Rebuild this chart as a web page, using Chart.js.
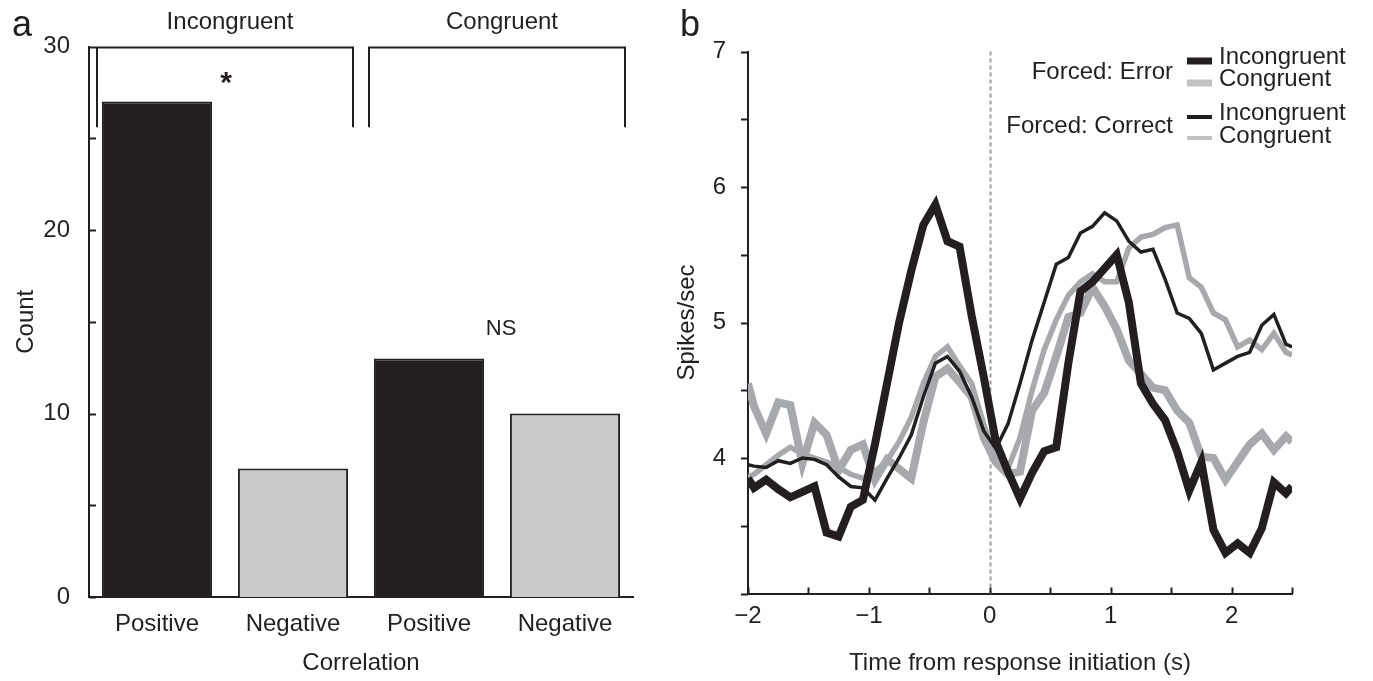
<!DOCTYPE html>
<html><head><meta charset="utf-8">
<script src="https://cdn.jsdelivr.net/npm/chart.js@4.4.1/dist/chart.umd.min.js"></script>
<style>
html,body{margin:0;padding:0;background:#fff;}
#wrap{position:relative;width:1373px;height:681px;overflow:hidden;}
canvas{position:absolute;left:0;top:0;}
</style></head><body>
<div id="wrap"><canvas id="ca" width="1373" height="681"></canvas><canvas id="cb" width="1373" height="681"></canvas></div>
<script>
// ---------- Panel a data ----------
const barCategories = ['Positive', 'Negative', 'Positive', 'Negative'];
const barCounts = [27, 7, 13, 10];
const groupLabels = ['Incongruent', 'Congruent'];
const groupMarks = ['*', 'NS'];
const groupMarkValues = [28.3, 14.7];
const countTicks = [0, 10, 20, 30];

// ---------- Panel b data ----------
const times = [-2.0, -1.95, -1.85, -1.75, -1.65, -1.55, -1.45, -1.35, -1.25, -1.15, -1.05,
  -0.95, -0.85, -0.75, -0.65, -0.55, -0.45, -0.35, -0.25, -0.15, -0.05,
  0.05, 0.15, 0.25, 0.35, 0.45, 0.55, 0.65, 0.75, 0.85, 0.95,
  1.05, 1.15, 1.25, 1.35, 1.45, 1.55, 1.65, 1.75, 1.85, 1.95,
  2.05, 2.15, 2.25, 2.35, 2.45, 2.5];
const errorIncongruent = [3.85, 3.78, 3.84, 3.77, 3.71, 3.75, 3.79, 3.45, 3.42, 3.64, 3.69,
  4.1, 4.55, 5.0, 5.38, 5.72, 5.87, 5.6, 5.56, 5.05, 4.6,
  4.12, 3.9, 3.7, 3.89, 4.05, 4.08, 4.7, 5.23, 5.3, 5.4,
  5.5, 5.15, 4.55, 4.4, 4.28, 4.05, 3.76, 3.97, 3.47, 3.3,
  3.37, 3.3, 3.48, 3.82, 3.74, 3.79];
const errorCongruent = [4.55, 4.38, 4.18, 4.41, 4.39, 3.96, 4.26, 4.17, 3.91, 4.06, 4.1,
  3.84, 3.99, 3.92, 3.85, 4.26, 4.6, 4.66, 4.56, 4.45, 4.15,
  3.97, 3.88, 3.9, 4.35, 4.48, 4.75, 5.04, 5.07, 5.26, 5.12,
  4.95, 4.72, 4.62, 4.52, 4.5, 4.35, 4.26, 4.01, 4.0, 3.84,
  3.97, 4.1, 4.18, 4.06, 4.16, 4.12];
const correctIncongruent = [3.95, 3.94, 3.93, 3.98, 3.96, 4.0, 3.99, 3.95, 3.86, 3.79, 3.78,
  3.69, 3.85, 4.0, 4.17, 4.45, 4.7, 4.75, 4.64, 4.45, 4.2,
  4.07, 4.25, 4.55, 4.87, 5.15, 5.43, 5.48, 5.66, 5.71, 5.81,
  5.75, 5.6, 5.52, 5.54, 5.32, 5.07, 5.03, 4.92, 4.65, 4.7,
  4.75, 4.78, 4.98, 5.06, 4.84, 4.82];
const correctCongruent = [3.86, 3.88, 3.95, 4.02, 4.08, 4.03, 4.0, 3.97, 3.93, 3.88, 3.85,
  3.9, 3.98, 4.12, 4.3, 4.55, 4.75, 4.82, 4.68, 4.55, 4.25,
  4.0, 3.92, 4.15, 4.5, 4.8, 5.02, 5.2, 5.3, 5.36, 5.3,
  5.3, 5.55, 5.63, 5.65, 5.7, 5.72, 5.33, 5.26, 5.07, 5.02,
  4.82, 4.87, 4.8, 4.92, 4.78, 4.76];
const spikeTicks = [4, 5, 6, 7];
const timeTicks = [-2, -1, 0, 1, 2];
const legendGroups = ['Forced: Error', 'Forced: Correct'];
const legendItems = ['Incongruent', 'Congruent'];

// ---------- Styles ----------
const INK = '#231f20';
const BAR_GRAY = '#cbcbcb';
const LINE_GRAY = '#a7a9ac';
const LEGEND_GRAY = '#c2c2c2';
const FONT = "'Liberation Sans', Arial, Helvetica, sans-serif";
const FS = 24;
Chart.defaults.font.family = FONT;
Chart.defaults.color = INK;

function centeredText(ctx, txt, x, y) {
  const m = ctx.measureText(txt);
  const h = m.actualBoundingBoxAscent + m.actualBoundingBoxDescent;
  ctx.textBaseline = 'alphabetic';
  ctx.fillText(txt, x, y - h / 2 + m.actualBoundingBoxAscent);
}

// ---------- Panel a ----------
const panelAPlugin = {
  id: 'panelA',
  afterDraw(chart) {
    const ctx = chart.ctx, ys = chart.scales.y, area = chart.chartArea;
    const bars = chart.getDatasetMeta(0).data;
    ctx.save();
    ctx.strokeStyle = INK; ctx.fillStyle = INK; ctx.lineWidth = 2;
    // inward y ticks
    ys.ticks.forEach(t => {
      const py = Math.round(ys.getPixelForValue(t.value)) + 0.5;
      ctx.beginPath(); ctx.moveTo(area.left, py); ctx.lineTo(area.left + 7, py); ctx.stroke();
    });
    // group brackets
    const top = ys.getPixelForValue(29.95), leg = ys.getPixelForValue(25.6);
    groupLabels.forEach((g, gi) => {
      const b0 = bars[gi * 2], b1 = bars[gi * 2 + 1];
      const L = Math.round(b0.x - b0.width / 2 - 5), R = Math.round(b1.x + b1.width / 2 + 5);
      ctx.beginPath();
      ctx.moveTo(L, leg); ctx.lineTo(L, top); ctx.lineTo(R, top); ctx.lineTo(R, leg);
      ctx.stroke();
      ctx.font = FS + 'px ' + FONT; ctx.textAlign = 'center'; ctx.textBaseline = 'alphabetic';
      ctx.fillText(g, (L + R) / 2 + 5, top - 18);
      // significance mark
      const mx = b0.x + b0.width / 2 + (gi === 0 ? 14 : 17);
      const my = ys.getPixelForValue(groupMarkValues[gi]);
      ctx.font = (gi === 0 ? 'bold 30px ' : '22px ') + FONT;
      centeredText(ctx, groupMarks[gi], mx, my);
    });
    // panel letter
    ctx.font = '36px ' + FONT; ctx.textAlign = 'left'; ctx.textBaseline = 'alphabetic';
    ctx.fillText('a', 12, 36);
    ctx.restore();
  }
};

new Chart(document.getElementById('ca'), {
  type: 'bar',
  data: {
    labels: barCategories,
    datasets: [{
      data: barCounts,
      backgroundColor: barCategories.map(c => c === 'Positive' ? INK : BAR_GRAY),
      borderColor: INK,
      borderWidth: 2,
      barPercentage: 0.81,
      categoryPercentage: 1
    }]
  },
  options: {
    responsive: false, animation: false, devicePixelRatio: 1,
    layout: { padding: { left: 0, right: 740, top: 46.5, bottom: 0 } },
    plugins: { legend: { display: false }, tooltip: { enabled: false } },
    scales: {
      x: {
        grid: { display: false },
        border: { display: true, color: INK, width: 2 },
        ticks: { font: { size: FS }, color: INK, padding: 5 },
        title: { display: true, text: 'Correlation', font: { size: FS }, color: INK, padding: { top: 0, bottom: 3 } },
        afterFit(s) { s.height = 84; }
      },
      y: {
        min: 0, max: 30,
        grid: { display: false },
        border: { display: true, color: INK, width: 2 },
        ticks: { stepSize: 5, font: { size: FS }, color: INK, padding: 11,
          callback: v => countTicks.includes(v) ? String(v) : '' },
        title: { display: true, text: 'Count', font: { size: FS }, color: INK, padding: { top: 12, bottom: 0 } },
        afterFit(s) { s.width = 89; }
      }
    }
  },
  plugins: [panelAPlugin]
});

// ---------- Panel b ----------
const near = (arr, v) => arr.some(t => Math.abs(t - v) < 1e-6);
const fmtTime = v => (v < -1e-9 ? '\u2212' + Math.abs(Math.round(v)) : String(Math.round(v)));

const panelBPlugin = {
  id: 'panelB',
  beforeDatasetsDraw(chart) {
    const ctx = chart.ctx, xs = chart.scales.x, area = chart.chartArea;
    const px = Math.round(xs.getPixelForValue(0)) + 0.5;
    ctx.save();
    ctx.strokeStyle = '#9a9a9a'; ctx.lineWidth = 2; ctx.setLineDash([4, 3]);
    ctx.beginPath(); ctx.moveTo(px, area.top); ctx.lineTo(px, area.bottom); ctx.stroke();
    ctx.restore();
  },
  afterDraw(chart) {
    const ctx = chart.ctx, xs = chart.scales.x, ys = chart.scales.y, area = chart.chartArea;
    ctx.save();
    ctx.strokeStyle = INK; ctx.fillStyle = INK; ctx.lineWidth = 2;
    ys.ticks.forEach(t => {
      const py = Math.round(ys.getPixelForValue(t.value)) + 0.5;
      ctx.beginPath(); ctx.moveTo(area.left - 7, py); ctx.lineTo(area.left, py); ctx.stroke();
    });
    xs.ticks.forEach(t => {
      const px = Math.round(xs.getPixelForValue(t.value)) + 0.5;
      ctx.beginPath(); ctx.moveTo(px, area.bottom); ctx.lineTo(px, area.bottom - 6); ctx.stroke();
    });
    // legend
    const ds = chart.data.datasets;
    const groups = [
      { label: legendGroups[0], base: 79, sets: [ds[0], ds[3]], lineY: [61, 83], textY: [64, 86] },
      { label: legendGroups[1], base: 133, sets: [ds[1], ds[2]], lineY: [117, 138], textY: [120, 143] }
    ];
    ctx.font = FS + 'px ' + FONT; ctx.textBaseline = 'alphabetic';
    groups.forEach(g => {
      ctx.textAlign = 'right'; ctx.fillStyle = INK;
      ctx.fillText(g.label, 1173, g.base);
      g.sets.forEach((d, i) => {
        ctx.strokeStyle = d.borderColor === LINE_GRAY ? LEGEND_GRAY : d.borderColor;
        ctx.lineWidth = d.borderWidth === 8 ? 7 : 4;
        ctx.beginPath(); ctx.moveTo(1187, g.lineY[i]); ctx.lineTo(1212, g.lineY[i]); ctx.stroke();
        ctx.textAlign = 'left'; ctx.fillStyle = INK;
        ctx.fillText(legendItems[i], 1219, g.textY[i]);
      });
    });
    ctx.font = '36px ' + FONT; ctx.textAlign = 'left';
    ctx.fillText('b', 680, 36);
    ctx.restore();
  }
};

const toPoints = vals => times.map((t, i) => ({ x: t, y: vals[i] }));

new Chart(document.getElementById('cb'), {
  type: 'line',
  data: {
    datasets: [
      { label: 'Forced: Error Incongruent', data: toPoints(errorIncongruent), borderColor: INK, borderWidth: 8 },
      { label: 'Forced: Correct Incongruent', data: toPoints(correctIncongruent), borderColor: INK, borderWidth: 3.5 },
      { label: 'Forced: Correct Congruent', data: toPoints(correctCongruent), borderColor: LINE_GRAY, borderWidth: 5.5 },
      { label: 'Forced: Error Congruent', data: toPoints(errorCongruent), borderColor: LINE_GRAY, borderWidth: 8 }
    ]
  },
  options: {
    responsive: false, animation: false, devicePixelRatio: 1,
    layout: { padding: { left: 660, right: 81, top: 51.5, bottom: 0 } },
    elements: { point: { radius: 0 }, line: { tension: 0, borderJoinStyle: 'miter', borderCapStyle: 'butt', fill: false } },
    plugins: { legend: { display: false }, tooltip: { enabled: false } },
    scales: {
      x: {
        type: 'linear', min: -2, max: 2.5,
        grid: { display: false },
        border: { display: true, color: INK, width: 2 },
        ticks: { stepSize: 0.5, autoSkip: false, font: { size: FS }, color: INK, padding: 0,
          callback: v => near(timeTicks, v) ? fmtTime(v) : '' },
        title: { display: true, text: 'Time from response initiation (s)', font: { size: FS }, color: INK, padding: { top: 0, bottom: 3 } },
        afterFit(s) { s.height = 87.5; }
      },
      y: {
        min: 3, max: 7,
        grid: { display: false },
        border: { display: true, color: INK, width: 2 },
        ticks: { stepSize: 0.5, autoSkip: false, font: { size: FS }, color: INK, padding: 14,
          callback: v => near(spikeTicks, v) ? String(Math.round(v)) : '' },
        title: { display: true, text: 'Spikes/sec', font: { size: FS }, color: INK, padding: { top: 13, bottom: 0 } },
        afterFit(s) { s.width = 88; }
      }
    }
  },
  plugins: [panelBPlugin]
});
</script>
</body></html>
